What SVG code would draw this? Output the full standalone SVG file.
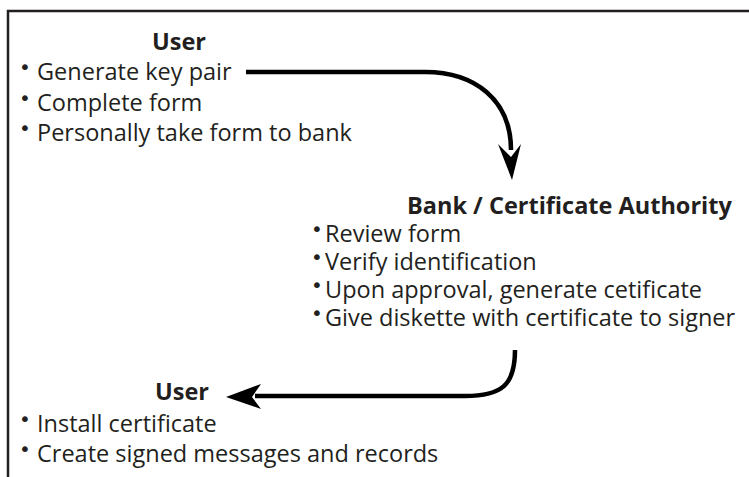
<svg xmlns="http://www.w3.org/2000/svg" width="749" height="477" viewBox="0 0 749 477">
<style>
.t{font-family:"Open Sans","Liberation Sans",sans-serif;font-size:23.5px;fill:#231f20}
.h{font-family:"Open Sans","Liberation Sans",sans-serif;font-size:23.5px;font-weight:bold;fill:#231f20}
.b{font-family:"DejaVu Sans",sans-serif;font-size:20px}
.c{fill:none;stroke:#000;stroke-width:4.5}
</style>
<rect x="0" y="0" width="749" height="477" fill="#fff"/>
<path d="M8,477 V11 H749" fill="none" stroke="#231f20" stroke-width="2.5"/>
<g id="user1">
<text class="h" x="152" y="50">User</text>
<text class="t" y="80"><tspan class="b" x="19" dy="-6">•</tspan><tspan x="37" dy="6">Generate key pair</tspan></text>
<text class="t" y="111"><tspan class="b" x="19" dy="-6">•</tspan><tspan x="37" dy="6">Complete form</tspan></text>
<text class="t" y="141"><tspan class="b" x="19" dy="-6">•</tspan><tspan x="37" dy="6">Personally take form to bank</tspan></text>
</g>
<g id="bank">
<text class="h" x="407" y="214">Bank / Certificate Authority</text>
<text class="t" y="242"><tspan class="b" x="311" dy="-6">•</tspan><tspan x="325" dy="6">Review form</tspan></text>
<text class="t" y="270"><tspan class="b" x="311" dy="-6">•</tspan><tspan x="325" dy="6">Verify identification</tspan></text>
<text class="t" y="298"><tspan class="b" x="311" dy="-6">•</tspan><tspan x="325" dy="6">Upon approval, generate cetificate</tspan></text>
<text class="t" y="326"><tspan class="b" x="311" dy="-6">•</tspan><tspan x="325" dy="6">Give diskette with certificate to signer</tspan></text>
</g>
<g id="user2">
<text class="h" x="155" y="400">User</text>
<text class="t" y="432"><tspan class="b" x="19" dy="-6">•</tspan><tspan x="37" dy="6">Install certificate</tspan></text>
<text class="t" y="462"><tspan class="b" x="19" dy="-6">•</tspan><tspan x="37" dy="6">Create signed messages and records</tspan></text>
</g>
<g id="connectors">
<path class="c" d="M246,72 L425,72 C475,72 511,100 511,150"/>
<polygon points="512,180 498,144 511,157 521,144" fill="#000"/>
<path class="c" d="M515,350 C515,385 502,396 465,396 L255,396"/>
<polygon points="226,397 261,384 252,397 261,409" fill="#000"/>
</g>
</svg>
